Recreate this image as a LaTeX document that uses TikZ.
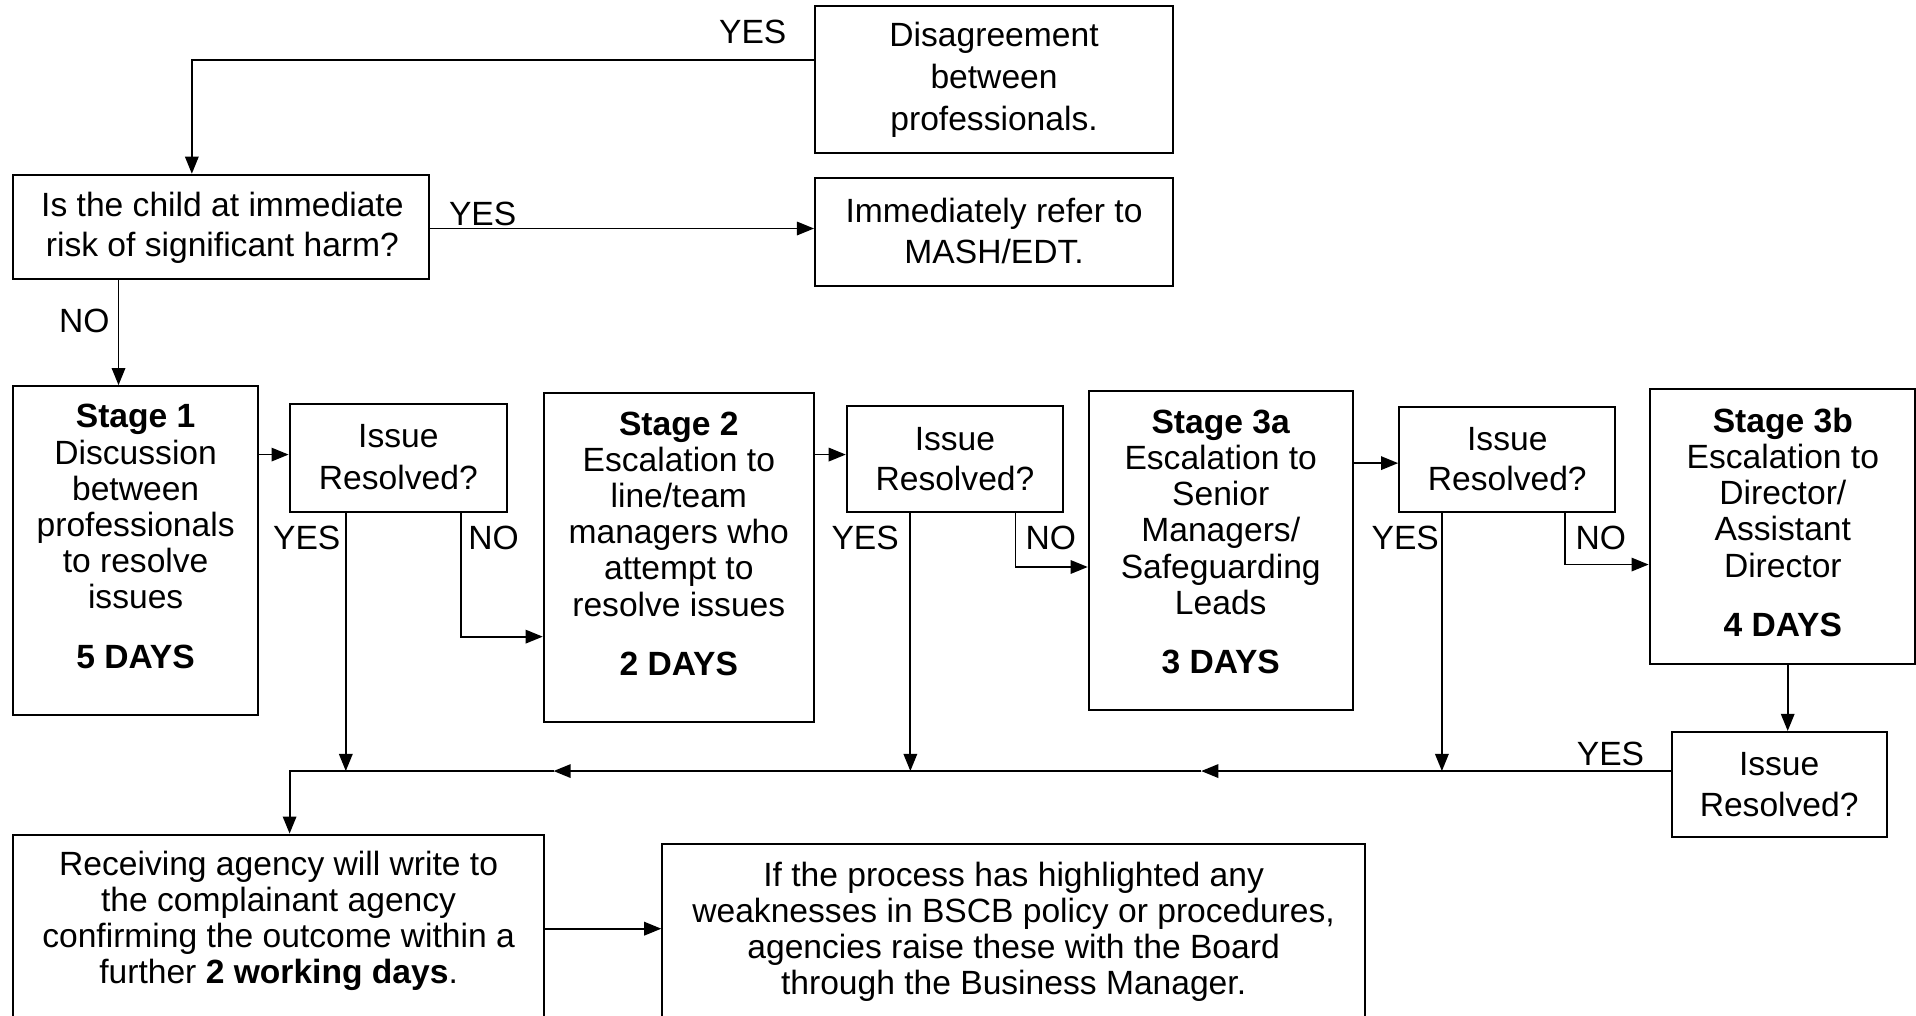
\documentclass[tikz,border=0pt]{standalone}
\usepackage{fontspec}
\setmainfont{Liberation Sans}
\usetikzlibrary{arrows.meta,calc}
\begin{document}
\begin{tikzpicture}[x=1pt,y=-1pt,
  box/.style={draw,line width=1.6pt,inner sep=0pt},
  txt/.style={align=center,inner sep=0pt,font=\fontsize{27.5}{29.6}\selectfont},
  lbl/.style={inner sep=0pt,font=\fontsize{27.5}{29.6}\selectfont},
  con/.style={line width=1.5pt},
  arr/.style={line width=1.5pt,-{Triangle[length=14pt,width=11pt]}}]
\useasboundingbox (0,0) rectangle (1568,831);
\clip (0,0) rectangle (1568,831);
\fill[white] (0,0) rectangle (1568,831);
% boxes
\node[box,minimum width=293pt,minimum height=120pt] (dis) at (813.5,65) {};
\node[txt,font=\fontsize{27.5}{34.5}\selectfont] (dist) at (813.5,65.5) {Disagreement\\between\\professionals.};
\node[box,minimum width=340pt,minimum height=85pt] (q) at (181,185.5) {};
\node[txt,font=\fontsize{27.5}{33}\selectfont] (qt) at (182,186.5) {Is the child at immediate\\risk of significant harm?};
\node[box,minimum width=293pt,minimum height=88pt] (mash) at (813.5,190) {};
\node[txt,font=\fontsize{27.5}{33}\selectfont] (masht) at (813.5,189) {Immediately refer to\\MASH/EDT.};
\node[box,minimum width=200pt,minimum height=269pt] (s1) at (111,450.5) {};
\node[txt] (s1t) at (111,439) {\textbf{Stage 1}\\Discussion\\between\\professionals\\to resolve\\issues\\[19pt]\textbf{5 DAYS}};
\node[box,minimum width=178pt,minimum height=88pt] (i1) at (326,375) {};
\node[txt,font=\fontsize{27.5}{34}\selectfont] (i1t) at (326,374) {Issue\\Resolved?};
\node[box,minimum width=221pt,minimum height=269pt] (s2) at (555.5,456.5) {};
\node[txt] (s2t) at (555.5,445) {\textbf{Stage 2}\\Escalation to\\line/team\\managers who\\attempt to\\resolve issues\\[19pt]\textbf{2 DAYS}};
\node[box,minimum width=177pt,minimum height=87pt] (i2) at (781.5,375.5) {};
\node[txt,font=\fontsize{27.5}{33}\selectfont] (i2t) at (781.5,375.5) {Issue\\Resolved?};
\node[box,minimum width=216pt,minimum height=261pt] (s3a) at (999,450.5) {};
\node[txt] (s3at) at (999,443.5) {\textbf{Stage 3a}\\Escalation to\\Senior\\Managers/\\Safeguarding\\Leads\\[19pt]\textbf{3 DAYS}};
\node[box,minimum width=177pt,minimum height=86pt] (i3) at (1233.5,376) {};
\node[txt,font=\fontsize{27.5}{33}\selectfont] (i3t) at (1233.5,375.5) {Issue\\Resolved?};
\node[box,minimum width=217pt,minimum height=225pt] (s3b) at (1458.5,430.5) {};
\node[txt] (s3bt) at (1459,427.5) {\textbf{Stage 3b}\\Escalation to\\Director/\\Assistant\\Director\\[19pt]\textbf{4 DAYS}};
\node[box,minimum width=176pt,minimum height=86pt] (i4) at (1456,642) {};
\node[txt,font=\fontsize{27.5}{34}\selectfont] (i4t) at (1456,642) {Issue\\Resolved?};
\node[box,minimum width=434pt,minimum height=170pt] (rec) at (228,768) {};
\node[txt] (rect) at (228,753.5) {Receiving agency will write to\\the complainant agency\\confirming the outcome within a\\further \textbf{2 working days}.};
\node[box,minimum width=575pt,minimum height=160pt] (bscb) at (829.5,771) {};
\node[txt] (bscbt) at (829.5,762.5) {If the process has highlighted any\\weaknesses in BSCB policy or procedures,\\agencies raise these with the Board\\through the Business Manager.};
% labels
\node[lbl] (l1) at (616,26) {YES};
\node[lbl] (l2) at (395,175) {YES};
\node[lbl] (l3) at (69,263) {NO};
\node[lbl] (l4) at (251,440) {YES};
\node[lbl] (l5) at (404,440) {NO};
\node[lbl] (l6) at (708,440) {YES};
\node[lbl] (l7) at (860,440) {NO};
\node[lbl] (l8) at (1150,440) {YES};
\node[lbl] (l9) at (1310,440) {NO};
\node[lbl] (l10) at (1318,617) {YES};
% junction coordinates
\coordinate (dW) at (dis.west |- 0,49);
\coordinate (qT) at (157,0 |- q.north);
\coordinate (qB) at (97,0 |- q.south);
\coordinate (s1T) at (97,0 |- s1.north);
\coordinate (i1Y) at (283,0 |- i1.south);
\coordinate (i1N) at (377,0 |- i1.south);
\coordinate (i2Y) at (745,0 |- i2.south);
\coordinate (i2N) at (831,0 |- i2.south);
\coordinate (i3Y) at (1180,0 |- i3.south);
\coordinate (i3N) at (1281,0 |- i3.south);
\coordinate (s3bB) at (1463,0 |- s3b.south);
\coordinate (i4T) at (1463,0 |- i4.north);
\coordinate (h4) at (i4.west |- 0,631);
\coordinate (hA2) at (983,631);
\coordinate (hA1) at (453,631);
\coordinate (hL) at (237,631);
\coordinate (recT) at (237,0 |- rec.north);
% connectors
\draw[arr] (dW) -| (qT);
\draw[arr] (q.east |- 0,187) -- (mash.west |- 0,187);
\draw[arr] (qB) -- (s1T);
\draw[arr] (s1.east |- 0,372) -- (i1.west |- 0,372);
\draw[arr] (i1Y) -- (i1Y |- hL);
\draw[arr] (i1N) |- (s2.west |- 0,521);
\draw[arr] (s2.east |- 0,372) -- (i2.west |- 0,372);
\draw[arr] (i2Y) -- (i2Y |- hL);
\draw[arr] (i2N) |- (s3a.west |- 0,464);
\draw[arr] (s3a.east |- 0,379) -- (i3.west |- 0,379);
\draw[arr] (i3Y) -- (i3Y |- hL);
\draw[arr] (i3N) |- (s3b.west |- 0,462);
\draw[arr] (s3bB) -- (i4T);
\draw[arr] (h4) -- (hA2);
\draw[arr] (hA2) -- (hA1);
\draw[arr] (hA1) -- (hL) -- (recT);
\draw[arr] (rec.east |- 0,760) -- (bscb.west |- 0,760);
\end{tikzpicture}
\end{document}
